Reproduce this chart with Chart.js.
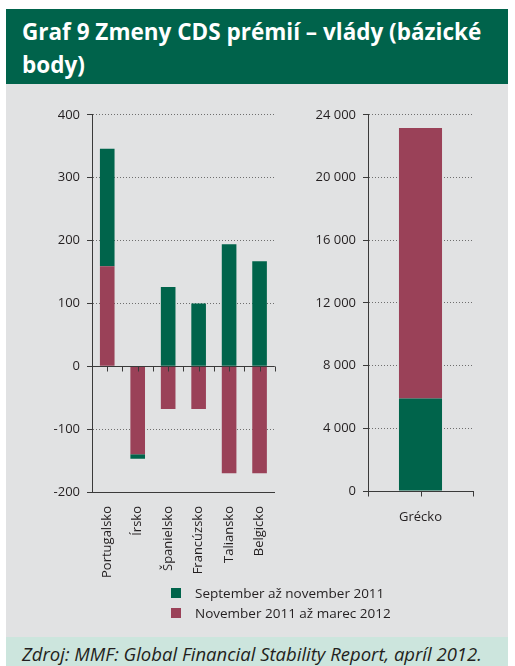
<!DOCTYPE html>
<html>
<head>
<meta charset="utf-8">
<script src="https://cdn.jsdelivr.net/npm/chart.js@4.4.1/dist/chart.umd.min.js"></script>
<style>
  html, body { margin: 0; padding: 0; background: #fff; }
  body { width: 515px; height: 666px; position: relative; overflow: hidden; font-family: "Open Sans", sans-serif; }
  .head { position: absolute; left: 6px; top: 9px; width: 502px; height: 75px; background: #00634b; }
  .head h1 { margin: 0; padding: 6px 0 0 16px; color: #fff; font: bold 22.5px/33px "Open Sans", sans-serif; }
  .panel { position: absolute; left: 6px; top: 84px; width: 502px; height: 553px; background: #e1e2e3; }
  .foot { position: absolute; left: 6px; top: 637px; width: 502px; height: 40px; background: #cce5dd; }
  .foot p { margin: 0; padding: 4px 0 0 16px; font: italic 18.5px "Open Sans", sans-serif; color: #231f20; }
  #leftChart { position: absolute; left: 40px; top: 100px; }
  #rightChart { position: absolute; left: 300px; top: 100px; }
  .legend { position: absolute; left: 171px; top: 583px; font: 13.5px "Open Sans", sans-serif; color: #231f20; }
  .legend div { height: 20px; display: flex; align-items: center; }
  .legend i { display: inline-block; width: 10px; height: 10px; margin-right: 14px; }
</style>
</head>
<body>
<div class="head"><h1>Graf 9 Zmeny CDS prémií – vlády (bázické<br>body)</h1></div>
<div class="panel"></div>
<canvas id="leftChart" width="250" height="490"></canvas>
<canvas id="rightChart" width="190" height="490"></canvas>
<div class="legend" id="legend"></div>
<div class="foot"><p>Zdroj: MMF: Global Financial Stability Report, apríl 2012.</p></div>
<script>
// zmeny v bázických bodoch
const countries = ['Portugalsko', 'Írsko', 'Španielsko', 'Francúzsko', 'Taliansko', 'Belgicko'];
const sepNov2011 = [187, -7, 126, 100, 194, 167];
const nov2011Mar2012 = [159, -140, -68, -68, -170, -170];

const greece = ['Grécko'];
const greeceSepNov2011 = [5900];
const greeceNov2011Mar2012 = [17250];

const seriesNames = ['September až november 2011', 'November 2011 až marec 2012'];

const GREEN = '#00644b';
const RED = '#9a4158';
const AXIS = '#3a3a3a';
const TEXT = '#231f20';
const DOTS = '#6e6e6e';

// legenda pod oboma grafmi
document.getElementById('legend').innerHTML = seriesNames
    .map((name, i) => '<div><i style="background:' + [GREEN, RED][i] + '"></i>' + name + '</div>')
    .join('');

// nulová čiara nad stĺpcami + značky v strede a na hraniciach kategórií
const zeroAxis = {
    id: 'zeroAxis',
    afterDatasetsDraw(chart) {
        const { ctx, scales: { x, y } } = chart;
        const y0 = Math.round(y.getPixelForValue(0)) + 0.5;
        const n = x.ticks.length;
        const w = x.width / n;
        ctx.save();
        ctx.strokeStyle = AXIS;
        ctx.lineWidth = 1;
        ctx.beginPath();
        ctx.moveTo(x.left, y0);
        ctx.lineTo(x.right, y0);
        for (let i = 0; i <= n; i++) {
            const b = Math.round(x.left + w * i) + 0.5;
            ctx.moveTo(b, y0);
            ctx.lineTo(b, y0 + 5);
            if (i < n) {
                const c = Math.round(x.getPixelForTick(i)) + 0.5;
                ctx.moveTo(c, y0);
                ctx.lineTo(c, y0 + 5);
            }
        }
        ctx.stroke();
        ctx.restore();
    }
};

const font = { family: '"Open Sans", sans-serif', size: 13 };

function yScale(min, max, step, width, fmt) {
    return {
        stacked: true,
        min: min,
        max: max,
        afterFit: (s) => { s.width = width; },
        ticks: { stepSize: step, color: TEXT, font: font, padding: 7, callback: fmt },
        border: { color: AXIS, width: 1, dash: [1, 2] },
        grid: {
            color: (c) => (c.tick.value === 0 || c.tick.value === min) ? 'transparent' : DOTS,
            tickColor: AXIS,
            tickLength: 5,
            tickBorderDash: [],
            lineWidth: 1
        }
    };
}

function xScale(height, rotation, padding) {
    return {
        stacked: true,
        afterFit: (s) => { s.height = height; },
        border: { color: AXIS, width: 1 },
        grid: { drawOnChartArea: false, drawTicks: false },
        ticks: {
            color: TEXT, font: font, padding: padding, autoSkip: false,
            minRotation: rotation, maxRotation: rotation
        }
    };
}

Chart.defaults.animation = false;

// kladné aj záporné zmeny sa skladajú od nuly: najprv nov. 2011 – mar. 2012
new Chart(document.getElementById('leftChart'), {
    type: 'bar',
    data: {
        labels: countries,
        datasets: [
            { label: seriesNames[1], data: nov2011Mar2012, backgroundColor: RED },
            { label: seriesNames[0], data: sepNov2011, backgroundColor: GREEN }
        ]
    },
    options: {
        responsive: false,
        categoryPercentage: 1,
        barPercentage: 0.48,
        layout: { padding: { top: 12, right: 10, left: 0, bottom: 0 } },
        plugins: { legend: { display: false }, tooltip: { enabled: false } },
        scales: {
            x: xScale(98, 90, 14),
            y: yScale(-200, 400, 100, 52, (v) => v)
        }
    },
    plugins: [zeroAxis]
});

// Grécko má vlastnú mierku, sep. – nov. 2011 je dole
new Chart(document.getElementById('rightChart'), {
    type: 'bar',
    data: {
        labels: greece,
        datasets: [
            { label: seriesNames[0], data: greeceSepNov2011, backgroundColor: GREEN },
            { label: seriesNames[1], data: greeceNov2011Mar2012, backgroundColor: RED }
        ]
    },
    options: {
        responsive: false,
        categoryPercentage: 1,
        barPercentage: 0.41,
        layout: { padding: { top: 12, right: 17, left: 0, bottom: 0 } },
        plugins: { legend: { display: false }, tooltip: { enabled: false } },
        scales: {
            x: xScale(99, 0, 18),
            y: yScale(0, 24000, 4000, 68, (v) => v.toString().replace(/\B(?=(\d{3})+(?!\d))/g, ' '))
        }
    },
    plugins: [zeroAxis]
});
</script>
</body>
</html>
